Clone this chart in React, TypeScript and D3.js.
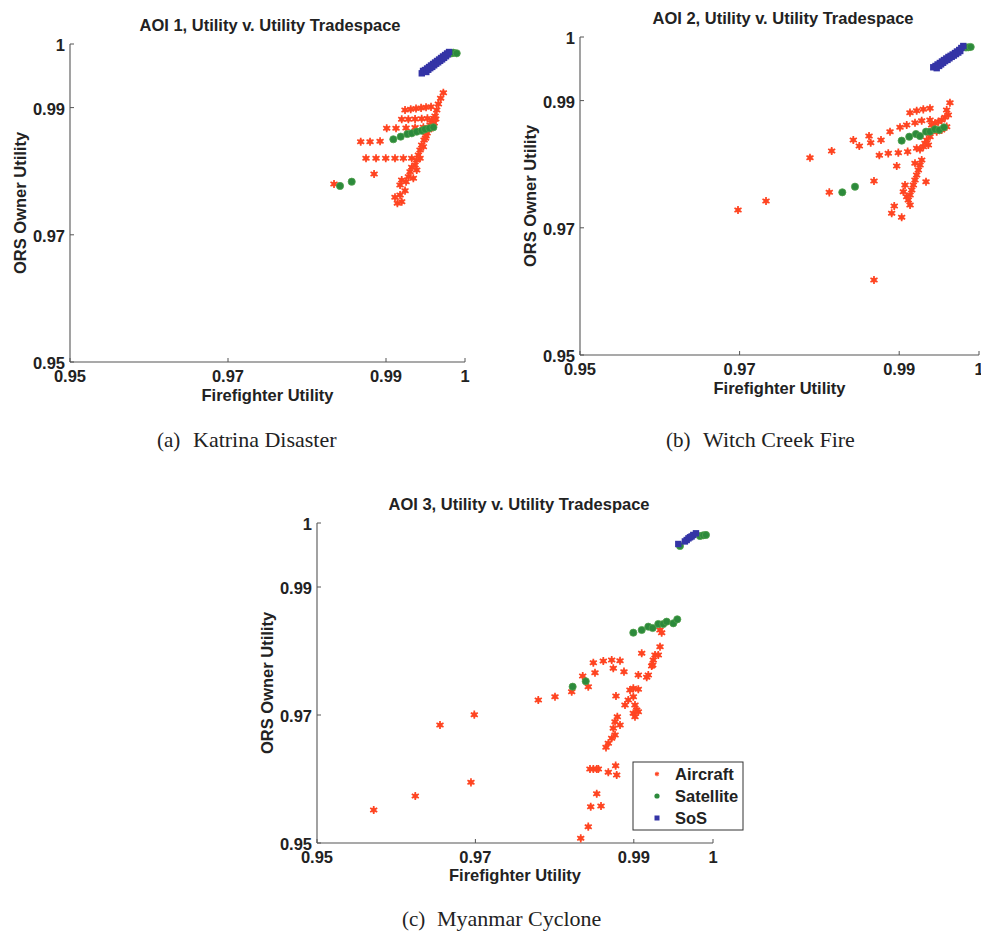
import React from "react";
import * as d3 from "d3";

type Pt = [number, number];

// Axis ticks shared by all three tradespace plots
const xTicks = [0.95, 0.97, 0.99, 1];
const yTicks = [0.95, 0.97, 0.99, 1];
const tickLabels = ["0.95", "0.97", "0.99", "1"];

const titles = [
  "AOI 1, Utility v. Utility Tradespace",
  "AOI 2, Utility v. Utility Tradespace",
  "AOI 3, Utility v. Utility Tradespace",
];
const captionTags = ["(a)", "(b)", "(c)"];
const captionNames = ["Katrina Disaster", "Witch Creek Fire", "Myanmar Cyclone"];
const xLabel = "Firefighter Utility";
const yLabel = "ORS Owner Utility";
const seriesNames = ["Aircraft", "Satellite", "SoS"];

// AOI 1 — Katrina
const aoi1Aircraft: Pt[] = [
  [0.99726, 0.99234], [0.99692, 0.99146], [0.99663, 0.99057], [0.99642, 0.98962], [0.99621, 0.98868],
  [0.99241, 0.98962], [0.99313, 0.98975], [0.9938, 0.98985], [0.99444, 0.98995], [0.99507, 0.99005], [0.9957, 0.99012],
  [0.99199, 0.98816], [0.99283, 0.98816], [0.99368, 0.98820], [0.99452, 0.98825], [0.99524, 0.98830],
  [0.99009, 0.98675], [0.99127, 0.98675], [0.99254, 0.98680], [0.99368, 0.98685], [0.99473, 0.98690],
  [0.9868, 0.98464], [0.98798, 0.98464], [0.98925, 0.98470],
  [0.98747, 0.98203], [0.98874, 0.98203], [0.98997, 0.98203], [0.99114, 0.98203], [0.9922, 0.98203], [0.99326, 0.98203],
  [0.98849, 0.97956], [0.98342, 0.97799],
  [0.99579, 0.98805], [0.99558, 0.98727], [0.99536, 0.98648], [0.99507, 0.98554], [0.99482, 0.98491],
  [0.99452, 0.98412], [0.99431, 0.98334], [0.9941, 0.98255], [0.99389, 0.98176], [0.99368, 0.98098],
  [0.99326, 0.98062], [0.99304, 0.97993], [0.99283, 0.97914], [0.99254, 0.97835], [0.99199, 0.97862],
  [0.99178, 0.97783], [0.99241, 0.97694], [0.99178, 0.97626], [0.99114, 0.9759], [0.99144, 0.97496],
  [0.99199, 0.97521], [0.99473, 0.98386], [0.99431, 0.98203], [0.99389, 0.98019], [0.99346, 0.97889],
  [0.9961, 0.98760], [0.9959, 0.98690], [0.9963, 0.98820], [0.9952, 0.98600], [0.9950, 0.98520],
];
const aoi1Satellite: Pt[] = [
  [0.99093, 0.98502], [0.99186, 0.98543], [0.9927, 0.98585], [0.99326, 0.98596], [0.99389, 0.98621],
  [0.99452, 0.98637], [0.99494, 0.98659], [0.99549, 0.98675], [0.996, 0.98691],
  [0.98418, 0.97768], [0.98566, 0.97835],
  [0.99832, 0.99854], [0.99853, 0.99863], [0.99895, 0.99854],
];
const aoi1SoS: Pt[] = [
  [0.99453, 0.99539], [0.99469, 0.99576], [0.99494, 0.99591], [0.9951, 0.9956], [0.9952, 0.99615],
  [0.99535, 0.99595], [0.99545, 0.99638], [0.9956, 0.9962], [0.9957, 0.99662], [0.99585, 0.9964],
  [0.99596, 0.99686], [0.9961, 0.99665], [0.99621, 0.99709], [0.99635, 0.9969], [0.99646, 0.99733],
  [0.9966, 0.99712], [0.99672, 0.99756], [0.99685, 0.99735], [0.99697, 0.9978], [0.9971, 0.99758],
  [0.99722, 0.99804], [0.99735, 0.99782], [0.99748, 0.99827], [0.9976, 0.99808], [0.99773, 0.99851],
  [0.9978, 0.99835], [0.99798, 0.99874],
];

// AOI 2 — Witch Creek
const aoi2Aircraft: Pt[] = [
  [0.99636, 0.98967],
  [0.99135, 0.9881], [0.99219, 0.98841], [0.99302, 0.98863], [0.99386, 0.98879],
  [0.9901, 0.9858], [0.99094, 0.98616], [0.99198, 0.98652], [0.99282, 0.98684], [0.99386, 0.98695],
  [0.98425, 0.9838], [0.98622, 0.98443], [0.98772, 0.9838], [0.98885, 0.98511], [0.985, 0.98286], [0.98643, 0.98338],
  [0.98751, 0.9814], [0.98863, 0.98171], [0.98989, 0.98181], [0.99106, 0.98197], [0.99219, 0.9825],
  [0.98154, 0.98208], [0.97882, 0.98102], [0.98969, 0.97972], [0.98684, 0.97736], [0.98124, 0.97558],
  [0.99336, 0.97725], [0.98938, 0.97343], [0.98906, 0.97228], [0.99031, 0.97165], [0.98684, 0.96179],
  [0.9698, 0.9728], [0.97331, 0.97421],
  [0.99595, 0.98852], [0.99615, 0.98774], [0.99574, 0.98737], [0.99532, 0.98695], [0.9949, 0.98668],
  [0.99448, 0.98643], [0.99407, 0.98616], [0.99595, 0.9859], [0.99532, 0.98538], [0.9947, 0.98511],
  [0.99386, 0.98432], [0.99344, 0.9838], [0.99323, 0.98329], [0.99365, 0.98302], [0.99302, 0.98275],
  [0.99261, 0.98234], [0.99282, 0.98066], [0.99261, 0.97987], [0.9924, 0.97909], [0.99219, 0.9783],
  [0.99198, 0.97752], [0.99177, 0.97673], [0.99157, 0.97594], [0.99136, 0.97516], [0.99114, 0.97437],
  [0.99136, 0.97359], [0.99073, 0.97673], [0.99052, 0.97568], [0.99094, 0.97489], [0.99198, 0.98014],
];
const aoi2Satellite: Pt[] = [
  [0.99031, 0.9837], [0.99126, 0.98432], [0.9921, 0.98475], [0.9926, 0.98443], [0.99336, 0.98511],
  [0.99386, 0.98511], [0.99448, 0.98549], [0.99502, 0.98538], [0.99561, 0.9858],
  [0.98287, 0.97558], [0.98446, 0.97646],
  [0.99837, 0.99835], [0.99866, 0.99838], [0.99896, 0.99843],
];
const aoi2SoS: Pt[] = [
  [0.99427, 0.99524], [0.99455, 0.99544], [0.9947, 0.99510], [0.99481, 0.99568], [0.995, 0.99545],
  [0.99509, 0.99591], [0.99525, 0.9957], [0.99536, 0.99615], [0.9955, 0.99595], [0.99561, 0.99638],
  [0.99575, 0.9962], [0.9959, 0.99662], [0.99605, 0.9964], [0.99617, 0.99686], [0.9963, 0.99665],
  [0.99644, 0.99704], [0.99658, 0.99688], [0.9967, 0.99725], [0.99685, 0.99708], [0.99699, 0.99748],
  [0.99712, 0.99732], [0.99724, 0.99772], [0.9974, 0.99755], [0.99752, 0.99796], [0.99765, 0.9978],
  [0.99778, 0.99827], [0.99803, 0.99858],
];

// AOI 3 — Myanmar
const aoi3Aircraft: Pt[] = [
  [0.99331, 0.98328], [0.99352, 0.98286], [0.99331, 0.98067], [0.991, 0.97964], [0.99309, 0.97938],
  [0.99268, 0.97938], [0.99246, 0.97859], [0.99226, 0.97766], [0.99183, 0.97625], [0.99163, 0.97589],
  [0.99057, 0.97625], [0.98876, 0.97677], [0.98741, 0.9773], [0.98615, 0.97844], [0.98721, 0.97859],
  [0.98826, 0.97848], [0.98489, 0.97817], [0.9851, 0.97661], [0.98994, 0.97417], [0.99057, 0.97402],
  [0.98952, 0.97391], [0.98994, 0.97286], [0.9893, 0.97234], [0.98889, 0.97156], [0.99015, 0.97156],
  [0.99037, 0.97078], [0.98994, 0.97027], [0.99057, 0.97052], [0.99015, 0.96973], [0.98775, 0.97297],
  [0.98792, 0.96973], [0.98763, 0.96895], [0.98826, 0.96844], [0.98741, 0.96792], [0.98763, 0.96688],
  [0.98721, 0.96636], [0.98678, 0.96558], [0.98649, 0.96495], [0.98771, 0.96208], [0.98784, 0.96063],
  [0.98678, 0.96105], [0.98447, 0.96156], [0.98489, 0.96156], [0.98532, 0.96156], [0.98552, 0.96156],
  [0.98532, 0.9577], [0.98456, 0.95567], [0.98586, 0.95578], [0.98425, 0.95255], [0.9833, 0.95073],
  [0.98355, 0.97609], [0.98425, 0.97442], [0.98216, 0.97364], [0.98005, 0.97286], [0.97794, 0.97234],
  [0.96986, 0.97005], [0.96553, 0.96844], [0.96944, 0.95948], [0.96241, 0.95734], [0.95716, 0.95516],
  [0.99239, 0.97781],
];
const aoi3Satellite: Pt[] = [
  [0.98994, 0.98286], [0.991, 0.98328], [0.99183, 0.9838], [0.99238, 0.98359], [0.99309, 0.98422],
  [0.99372, 0.98422], [0.99415, 0.98458], [0.99499, 0.98433], [0.99549, 0.98495],
  [0.98228, 0.97442], [0.98393, 0.97527],
  [0.99583, 0.99641], [0.99836, 0.99797], [0.99877, 0.99808], [0.99911, 0.99813],
];
const aoi3SoS: Pt[] = [
  [0.99562, 0.99672], [0.99645, 0.99712], [0.99668, 0.99734], [0.9969, 0.9976],
  [0.9971, 0.99777], [0.9973, 0.9979], [0.99751, 0.99813], [0.99785, 0.99839],
];

type Panel = {
  left: number; right: number; top: number; bottom: number;
  titleX: number; titleY: number; xLabelY: number;
  capTagX: number; capNameX: number; capY: number;
  aircraft: Pt[]; satellite: Pt[]; sos: Pt[]; legend: boolean;
};

const panels: Panel[] = [
  { left: 70, right: 465, top: 44, bottom: 362, titleX: 270, titleY: 31, xLabelY: 401,
    capTagX: 157, capNameX: 193, capY: 447,
    aircraft: aoi1Aircraft, satellite: aoi1Satellite, sos: aoi1SoS, legend: false },
  { left: 580, right: 979, top: 37, bottom: 355, titleX: 783, titleY: 24, xLabelY: 394,
    capTagX: 666, capNameX: 703, capY: 447,
    aircraft: aoi2Aircraft, satellite: aoi2Satellite, sos: aoi2SoS, legend: false },
  { left: 317, right: 713, top: 523, bottom: 843, titleX: 519, titleY: 510, xLabelY: 881,
    capTagX: 402, capNameX: 437, capY: 926,
    aircraft: aoi3Aircraft, satellite: aoi3Satellite, sos: aoi3SoS, legend: true },
];

const SANS = "'Liberation Sans', Arial, Helvetica, sans-serif";
const SERIF = "'Liberation Serif', 'Times New Roman', serif";
const AIR = "#ff4422";
const SAT_FILL = "#2c8a3c";
const SAT_EDGE = "#4f9f4a";
const SOS = "#3434a6";
const AXIS = "#555";

const asterisk = d3.symbol(d3.symbolAsterisk, 46)() as string;
const asteriskSmall = d3.symbol(d3.symbolAsterisk, 14)() as string;

function Plot({ p, idx }: { p: Panel; idx: number }) {
  const x = d3.scaleLinear().domain([0.95, 1]).range([p.left, p.right]);
  const y = d3.scaleLinear().domain([0.95, 1]).range([p.bottom, p.top]);
  const midX = (p.left + p.right) / 2;
  const midY = (p.top + p.bottom) / 2;
  return (
    <g>
      <text x={p.titleX} y={p.titleY} textAnchor="middle" fontFamily={SANS} fontWeight="bold"
        fontSize={16.5} fill="#222">{titles[idx]}</text>

      {/* axes: left and bottom only, ticks pointing inward */}
      <line x1={p.left} x2={p.left} y1={p.top} y2={p.bottom} stroke={AXIS} strokeWidth={1.1} />
      <line x1={p.left} x2={p.right} y1={p.bottom} y2={p.bottom} stroke={AXIS} strokeWidth={1.1} />
      {xTicks.map((t, i) => (
        <g key={"x" + i}>
          <line x1={x(t)} x2={x(t)} y1={p.bottom} y2={p.bottom - 4} stroke={AXIS} />
          <text x={x(t)} y={p.bottom + 20} textAnchor="middle" fontFamily={SANS} fontWeight="bold"
            fontSize={16.5} fill="#222">{tickLabels[i]}</text>
        </g>
      ))}
      {yTicks.map((t, i) => (
        <g key={"y" + i}>
          <line x1={p.left} x2={p.left + 4} y1={y(t)} y2={y(t)} stroke={AXIS} />
          <text x={p.left - 5} y={y(t) + 7} textAnchor="end" fontFamily={SANS} fontWeight="bold"
            fontSize={16.5} fill="#222">{tickLabels[i]}</text>
        </g>
      ))}
      <text x={midX} y={p.xLabelY} textAnchor="middle" fontFamily={SANS} fontWeight="bold"
        fontSize={16.5} fill="#222">{xLabel}</text>
      <text transform={`translate(${p.left - 44},${midY}) rotate(-90)`} textAnchor="middle"
        fontFamily={SANS} fontWeight="bold" fontSize={16.5} fill="#222">{yLabel}</text>

      {/* series */}
      {p.aircraft.map((d, i) => (
        <g key={"a" + i} transform={`translate(${x(d[0])},${y(d[1])})`}>
          <circle r={2.6} fill="#ff5a2a" opacity={0.85} />
          <path d={asterisk} fill="none" stroke={AIR} strokeWidth={1.7} />
        </g>
      ))}
      {p.satellite.map((d, i) => (
        <circle key={"s" + i} cx={x(d[0])} cy={y(d[1])} r={3.6} fill={SAT_FILL} stroke={SAT_EDGE}
          strokeWidth={0.8} />
      ))}
      {p.sos.map((d, i) => (
        <rect key={"q" + i} x={x(d[0]) - 3.2} y={y(d[1]) - 3.2} width={6.4} height={6.4} fill={SOS} />
      ))}

      {p.legend && (
        <g>
          <rect x={633} y={762} width={110} height={68} fill="#fff" stroke="#333" strokeWidth={1} />
          {seriesNames.map((n, i) => {
            const cy = 774 + i * 22;
            return (
              <g key={n}>
                {i === 0 && <path d={asteriskSmall} transform={`translate(657,${cy})`} fill="none"
                  stroke={AIR} strokeWidth={1.2} />}
                {i === 1 && <circle cx={657} cy={cy} r={2.6} fill={SAT_FILL} />}
                {i === 2 && <rect x={654.5} y={cy - 2.5} width={5} height={5} fill={SOS} />}
                <text x={675} y={cy + 6} fontFamily={SANS} fontWeight="bold" fontSize={16.5}
                  fill="#222">{n}</text>
              </g>
            );
          })}
        </g>
      )}

      <text x={p.capTagX} y={p.capY} fontFamily={SERIF} fontSize={21} fill="#222">
        {captionTags[idx]}
      </text>
      <text x={p.capNameX} y={p.capY} fontFamily={SERIF} fontSize={22} fill="#222">
        {captionNames[idx]}
      </text>
    </g>
  );
}

export default function App() {
  return (
    <svg width={981} height={935} style={{ position: "absolute", left: 0, top: 0, background: "#fff" }}>
      <rect width={981} height={935} fill="#fff" />
      {panels.map((p, i) => <Plot key={i} p={p} idx={i} />)}
    </svg>
  );
}
